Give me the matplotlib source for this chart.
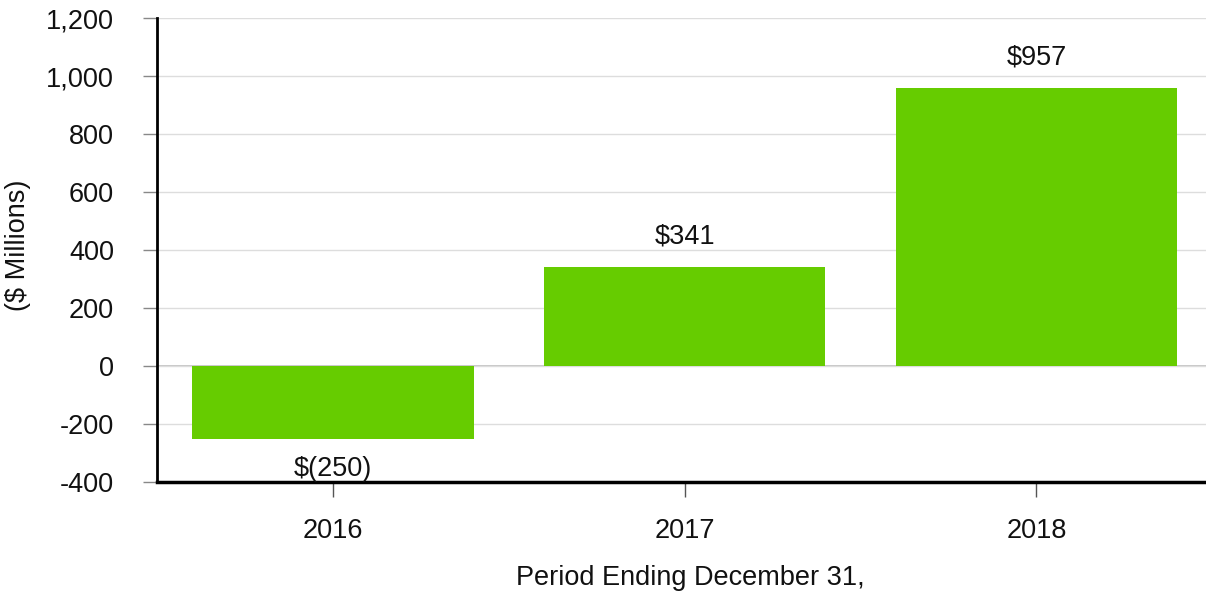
import matplotlib
matplotlib.use("Agg")
import matplotlib.pyplot as plt
from matplotlib.ticker import FuncFormatter

years = ["2016", "2017", "2018"]
values = [-250, 341, 957]
bar_labels = ["$(250)", "$341", "$957"]
yticks = [-400, -200, 0, 200, 400, 600, 800, 1000, 1200]

plt.rcParams['font.family'] = ['Liberation Sans', 'DejaVu Sans']
FS = 19.5

W, H = 1206, 592
fig = plt.figure(figsize=(W / 100, H / 100), dpi=100)
ax = fig.add_axes([157 / W, 1 - 482 / H, (1206 - 157) / W, (482 - 18) / H])

x = list(range(len(years)))
bars = ax.bar(x, values, width=0.8, color="#66CC00", zorder=3)

for xi, v, lab in zip(x, values, bar_labels):
    off = 22 if v >= 0 else -22
    ax.annotate(lab, (xi, v), xytext=(0, off), textcoords="offset points",
                ha="center", va="center", fontsize=FS, color="#111111")

ax.set_xlim(-0.5, 2.482)
ax.set_ylim(-400, 1200)
ax.set_yticks(yticks)
ax.yaxis.set_major_formatter(FuncFormatter(lambda v, p: f"{int(v):,}"))
ax.set_xticks(x)
ax.set_xticklabels(years)

ax.grid(axis="y", color="#dddddd", linewidth=1, zorder=0)
ax.axhline(0, color="#bbbbbb", linewidth=1.2, zorder=1)

for s in ["top", "right"]:
    ax.spines[s].set_visible(False)
ax.spines["left"].set_linewidth(2)
ax.spines["left"].set_color("black")
ax.spines["bottom"].set_linewidth(2.5)
ax.spines["bottom"].set_color("black")

ax.tick_params(axis="y", length=10, width=1, color="#888888", pad=21,
               labelsize=FS, labelcolor="#111111")
ax.tick_params(axis="x", length=11, width=1, color="#555555", pad=15,
               labelsize=FS, labelcolor="#111111")

fig.text(18 / W, 1 - 245 / H, "($ Millions)", rotation=90, ha="center", va="center",
         fontsize=FS, color="#111111")
fig.text(690 / W, 1 - 578 / H, "Period Ending December 31,", ha="center", va="center",
         fontsize=FS, color="#111111")

fig.savefig("out.png", dpi=100)
